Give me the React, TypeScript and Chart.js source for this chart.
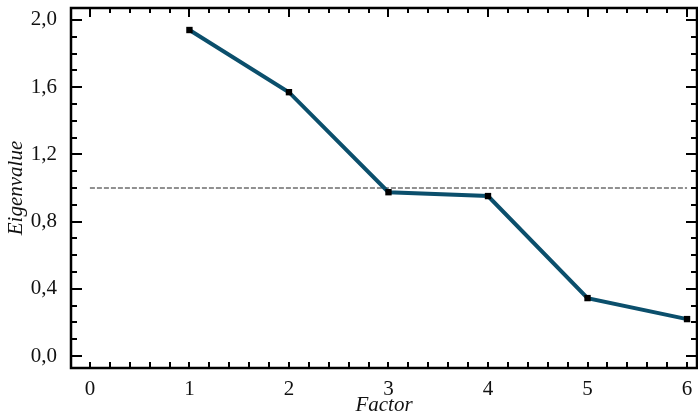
import React, { useEffect, useRef } from "react";
import { Chart, registerables } from "chart.js";

Chart.register(...registerables);

const factors = [1, 2, 3, 4, 5, 6];
const eigenvalues = [1.94, 1.57, 0.975, 0.952, 0.345, 0.22];
const thresholdX = [0, 6];
const thresholdY = [1.0, 1.0];
const xTicks = [0, 1, 2, 3, 4, 5, 6];
const yTicks = [0, 0.4, 0.8, 1.2, 1.6, 2.0];
const xMinorStep = 0.2;
const yMinorStep = 0.1;

const FONT = "'Liberation Serif', 'DejaVu Serif', serif";

const framePlugin = {
  id: "frame",
  afterDraw(chart: any) {
    const { ctx, chartArea } = chart;
    const { left, right, top, bottom } = chartArea;
    const xs = chart.scales.x;
    const ys = chart.scales.y;
    ctx.save();
    ctx.strokeStyle = "#000";
    ctx.lineWidth = 2.5;
    ctx.strokeRect(left, top, right - left, bottom - top);
    ctx.lineWidth = 2;
    ctx.beginPath();
    const nx = Math.round((xTicks[xTicks.length - 1] - xTicks[0]) / xMinorStep);
    for (let i = 0; i <= nx; i++) {
      const v = xTicks[0] + i * xMinorStep;
      const major = Math.abs(v - Math.round(v)) < 1e-6;
      const px = Math.round(xs.getPixelForValue(v));
      ctx.moveTo(px, bottom);
      ctx.lineTo(px, bottom - 6);
      ctx.moveTo(px, top);
      ctx.lineTo(px, top + (major ? 9 : 5));
    }
    const ny = Math.round((yTicks[yTicks.length - 1] - yTicks[0]) / yMinorStep);
    for (let i = 0; i <= ny; i++) {
      const v = yTicks[0] + i * yMinorStep;
      const major = i % 4 === 0;
      const py = Math.round(ys.getPixelForValue(v));
      ctx.moveTo(left, py);
      ctx.lineTo(left + (major ? 11 : 6), py);
      ctx.moveTo(right, py);
      ctx.lineTo(right - (major ? 11 : 6), py);
    }
    ctx.stroke();
    ctx.restore();
  },
};

export default function App() {
  const ref = useRef<HTMLCanvasElement>(null);
  useEffect(() => {
    if (!ref.current) return;
    const chart = new Chart(ref.current, {
      type: "line",
      data: {
        datasets: [
          {
            label: "threshold",
            data: thresholdX.map((x, i) => ({ x, y: thresholdY[i] })),
            borderColor: "#222",
            borderWidth: 1,
            borderDash: [5, 2],
            pointRadius: 0,
            order: 2,
          },
          {
            label: "Eigenvalue",
            data: factors.map((x, i) => ({ x, y: eigenvalues[i] })),
            borderColor: "#0b4f6c",
            borderWidth: 4,
            pointStyle: "rect",
            pointRadius: 4.5,
            pointBackgroundColor: "#000",
            pointBorderColor: "#000",
            pointBorderWidth: 0,
            order: 1,
          },
        ],
      },
      options: {
        animation: false,
        responsive: false,
        maintainAspectRatio: false,
        layout: { autoPadding: false, padding: { top: 8, right: 1, left: 0, bottom: 0 } },
        plugins: { legend: { display: false }, tooltip: { enabled: false } },
        scales: {
          x: {
            type: "linear",
            min: -0.19,
            max: 6.1,
            grid: { display: false },
            border: { display: false },
            afterBuildTicks: (s: any) => {
              s.ticks = xTicks.map((v) => ({ value: v }));
            },
            afterFit: (s: any) => {
              s.height = 50;
              s.paddingLeft = 0;
              s.paddingRight = 0;
            },
            ticks: {
              font: { family: FONT, size: 21 },
              color: "#111",
              padding: 1,
              maxRotation: 0,
              callback: (v: any) => String(v),
            },
            title: {
              display: true,
              text: "Factor",
              font: { family: FONT, size: 21, style: "italic" },
              color: "#111",
              padding: { top: -2.5, bottom: 0 },
            },
          },
          y: {
            type: "linear",
            min: -0.071,
            max: 2.071,
            grid: { display: false },
            border: { display: false },
            afterBuildTicks: (s: any) => {
              s.ticks = yTicks.map((v) => ({ value: v }));
            },
            afterFit: (s: any) => {
              s.width = 71;
              s.paddingTop = 0;
              s.paddingBottom = 0;
            },
            ticks: {
              font: { family: FONT, size: 21 },
              color: "#111",
              padding: 6,
              callback: (v: any) => Number(v).toFixed(1).replace(".", ","),
            },
            title: {
              display: true,
              text: "Eigenvalue",
              font: { family: FONT, size: 21, style: "italic" },
              color: "#111",
              padding: { top: 4, bottom: 0 },
            },
          },
        },
      },
      plugins: [framePlugin],
    });
    return () => chart.destroy();
  }, []);
  return (
    <div style={{ position: "fixed", left: 0, top: 0, width: 698, height: 418, background: "#fff" }}>
      <canvas ref={ref} width={698} height={418} style={{ width: 698, height: 418 }} />
    </div>
  );
}
